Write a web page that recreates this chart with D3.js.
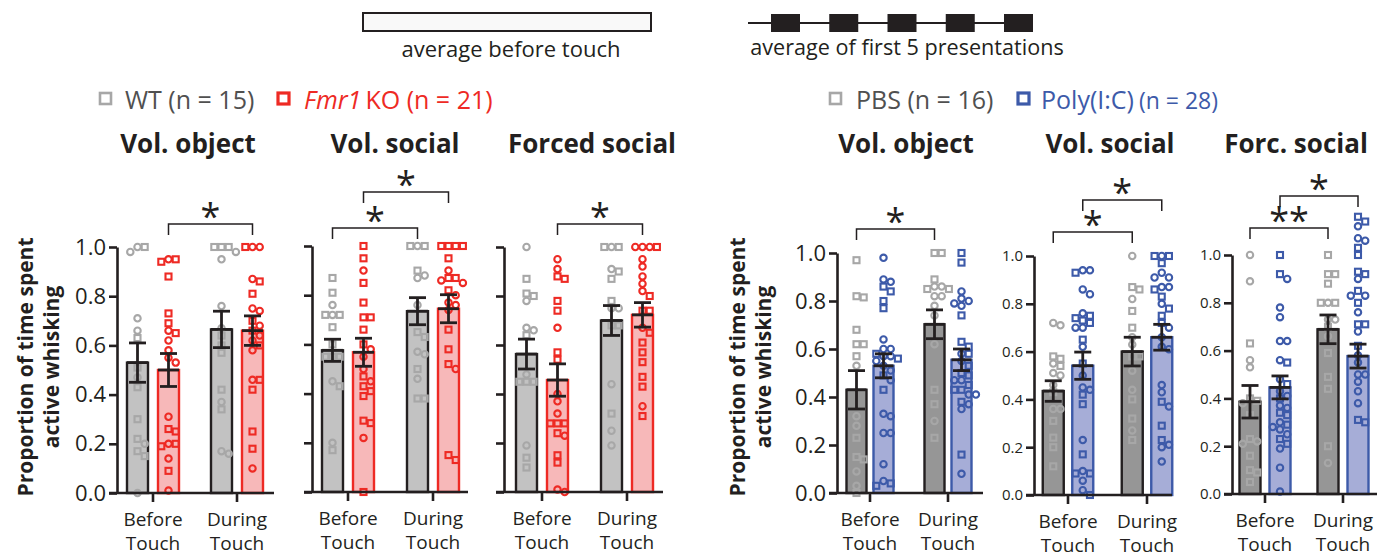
<!DOCTYPE html>
<html>
<head>
<meta charset="utf-8">
<script src="https://cdn.jsdelivr.net/npm/d3@7"></script>
<style>
  body { margin: 0; background: #fff; }
  svg { font-family: "Open Sans", sans-serif; }
</style>
</head>
<body>
<div id="chart"></div>
<script>
// ---- data ----
const groups = ["Before Touch", "During Touch"];
const fmrConds = ["WT", "Fmr1 KO"];
const miaConds = ["PBS", "Poly(I:C)"];
const yTicks = [0, 0.2, 0.4, 0.6, 0.8, 1.0];
const panelTitles = ["Vol. object", "Vol. social", "Forced social", "Vol. object", "Vol. social", "Forc. social"];

// each animal: o = circle marker, s = square marker
// Fmr1 cohort, voluntary object
const objWtPre = { o: [1.0, 0.98, 0.71, 0.66, 0.47, 0.20, 0.0], s: [1.0, 0.63, 0.51, 0.43, 0.30, 0.22, 0.17, 0.15] };
const objKoPre = { o: [0.95, 0.66, 0.62, 0.58, 0.55, 0.53, 0.31, 0.20, 0.14, 0.01], s: [0.95, 0.94, 0.88, 0.73, 0.69, 0.65, 0.26, 0.25, 0.20, 0.19, 0.09] };
const objWtDur = { o: [0.98, 0.95, 0.76, 0.67, 0.37, 0.17, 0.16], s: [1.0, 1.0, 1.0, 0.64, 0.60, 0.57, 0.42, 0.34] };
const objKoDur = { o: [1.0, 1.0, 0.87, 0.75, 0.74, 0.68, 0.64, 0.62, 0.58, 0.46, 0.10], s: [1.0, 0.86, 0.81, 0.70, 0.66, 0.60, 0.46, 0.42, 0.25, 0.18] };
const objFmrMean = [0.53, 0.50, 0.665, 0.66];
const objFmrSem = [0.08, 0.067, 0.074, 0.06];

// Fmr1 cohort, voluntary social
const socWtPre = { o: [0.76, 0.72, 0.45, 0.20], s: [0.87, 0.81, 0.72, 0.72, 0.67, 0.60, 0.55, 0.55, 0.55, 0.43, 0.17] };
const socKoPre = { o: [0.90, 0.58, 0.55, 0.50, 0.45, 0.22], s: [1.0, 0.95, 0.85, 0.77, 0.71, 0.71, 0.66, 0.60, 0.47, 0.43, 0.41, 0.39, 0.29, 0.28, 0.0] };
const socWtDur = { o: [1.0, 0.88, 0.87, 0.76, 0.57, 0.56, 0.46], s: [1.0, 1.0, 0.90, 0.65, 0.63, 0.50, 0.38, 0.38] };
const socKoDur = { o: [0.90, 0.86, 0.85, 0.80, 0.77, 0.76, 0.74, 0.50], s: [1.0, 1.0, 1.0, 1.0, 0.95, 0.87, 0.87, 0.82, 0.66, 0.58, 0.52, 0.15, 0.13] };
const socFmrMean = [0.576, 0.568, 0.735, 0.745];
const socFmrSem = [0.045, 0.057, 0.055, 0.057];

// Fmr1 cohort, forced social
const frcWtPre = { o: [1.0, 0.78, 0.67, 0.66, 0.48, 0.19], s: [0.87, 0.81, 0.80, 0.64, 0.45, 0.45, 0.45, 0.14, 0.10] };
const frcKoPre = { o: [0.95, 0.91, 0.67, 0.40, 0.37, 0.32, 0.23, 0.01, 0.0], s: [0.88, 0.87, 0.78, 0.74, 0.57, 0.54, 0.28, 0.28, 0.28, 0.24, 0.15, 0.12] };
const frcWtDur = { o: [1.0, 0.91, 0.75, 0.75, 0.44, 0.25, 0.19], s: [1.0, 1.0, 0.90, 0.87, 0.78, 0.68, 0.68, 0.32] };
const frcKoDur = { o: [1.0, 1.0, 1.0, 0.95, 0.92, 0.88, 0.85, 0.82, 0.67, 0.35], s: [1.0, 0.80, 0.74, 0.74, 0.65, 0.61, 0.57, 0.53, 0.47, 0.43, 0.31] };
const frcFmrMean = [0.563, 0.457, 0.70, 0.723];
const frcFmrSem = [0.061, 0.066, 0.061, 0.05];

// MIA cohort, voluntary object
const objPbsPre = { o: [0.53, 0.32, 0.28, 0.09, 0.03], s: [0.97, 0.82, 0.815, 0.68, 0.62, 0.62, 0.57, 0.23, 0.15, 0.14, 0.0] };
const objPicPre = { o: [0.98, 0.89, 0.88, 0.64, 0.60, 0.60, 0.57, 0.57, 0.55, 0.53, 0.51, 0.47, 0.33, 0.32, 0.25, 0.25, 0.12, 0.05], s: [0.86, 0.84, 0.80, 0.77, 0.58, 0.56, 0.49, 0.43, 0.04, 0.03] };
const objPbsDur = { o: [0.86, 0.86, 0.82, 0.82, 0.78, 0.74, 0.62, 0.30], s: [1.0, 1.0, 0.89, 0.85, 0.85, 0.43, 0.37, 0.23] };
const objPicDur = { o: [0.84, 0.81, 0.80, 0.79, 0.78, 0.58, 0.55, 0.47, 0.47, 0.41, 0.41, 0.37, 0.35, 0.08], s: [1.0, 0.96, 0.74, 0.63, 0.61, 0.58, 0.53, 0.50, 0.49, 0.45, 0.43, 0.43, 0.38, 0.16] };
const objMiaMean = [0.43, 0.53, 0.703, 0.555];
const objMiaSem = [0.08, 0.05, 0.06, 0.045];

// MIA cohort, voluntary social
const socPbsPre = { o: [0.72, 0.71, 0.55, 0.51, 0.50, 0.46, 0.36, 0.36], s: [0.58, 0.57, 0.54, 0.43, 0.31, 0.24, 0.20, 0.12] };
const socPicPre = { o: [0.94, 0.94, 0.86, 0.84, 0.76, 0.70, 0.70, 0.62, 0.50, 0.45, 0.44, 0.23, 0.10, 0.06, 0.02], s: [0.93, 0.75, 0.74, 0.73, 0.72, 0.65, 0.55, 0.42, 0.38, 0.17, 0.09, 0.09, 0.0] };
const socPbsDur = { o: [1.0, 0.82, 0.66, 0.63, 0.52, 0.44, 0.27], s: [0.87, 0.86, 0.77, 0.70, 0.58, 0.58, 0.40, 0.32, 0.23] };
const socPicDur = { o: [1.0, 0.93, 0.91, 0.91, 0.87, 0.87, 0.80, 0.70, 0.66, 0.62, 0.61, 0.46, 0.43, 0.37, 0.21, 0.20, 0.14], s: [1.0, 1.0, 0.97, 0.86, 0.83, 0.78, 0.75, 0.72, 0.39, 0.29, 0.23] };
const socMiaMean = [0.435, 0.541, 0.60, 0.66];
const socMiaSem = [0.043, 0.057, 0.06, 0.054];

// MIA cohort, forced social
const frcPbsPre = { o: [1.0, 0.89, 0.56, 0.53, 0.38, 0.22, 0.21], s: [0.63, 0.40, 0.39, 0.33, 0.23, 0.16, 0.10, 0.09, 0.05] };
const frcPicPre = { o: [0.90, 0.78, 0.74, 0.64, 0.64, 0.56, 0.48, 0.43, 0.41, 0.37, 0.36, 0.30, 0.28, 0.27, 0.25, 0.19, 0.11, 0.01], s: [1.0, 0.92, 0.55, 0.46, 0.40, 0.34, 0.33, 0.29, 0.23, 0.21] };
const frcPbsDur = { o: [0.80, 0.73, 0.73, 0.66, 0.13], s: [1.0, 0.92, 0.92, 0.88, 0.80, 0.80, 0.70, 0.59, 0.49, 0.44, 0.20] };
const frcPicDur = { o: [1.12, 1.07, 1.06, 0.90, 0.83, 0.83, 0.76, 0.68, 0.58, 0.55, 0.50, 0.50, 0.47, 0.43, 0.38], s: [1.16, 1.14, 1.03, 1.0, 0.93, 0.92, 0.85, 0.80, 0.71, 0.71, 0.62, 0.31, 0.30] };
const frcMiaMean = [0.386, 0.446, 0.689, 0.577];
const frcMiaSem = [0.068, 0.048, 0.06, 0.05];

// ---- styles ----
const ink = "#231f20";
const palettes = {
  fmr: { conds: fmrConds, pt: ["#a7a7a7", "#ee2a24"], fill: ["#c2c2c2", "#f7b8b9"], stroke: [ink, "#ee2a24"] },
  mia: { conds: miaConds, pt: ["#a7a7a7", "#3d5aa9"], fill: ["#969696", "#a6add7"], stroke: [ink, "#3d5aa9"] }
};

// layout of each panel (pixels), data hooked in by name
const panels = [
  { title: panelTitles[0], pal: "fmr", x0: 117, x1: 274, c: [153, 237], step: 31, bw: 21, yTop: 247, yBot: 493, tickFont: 22, titleX: 188,
    pts: [objWtPre, objKoPre, objWtDur, objKoDur], mean: objFmrMean, sem: objFmrSem,
    sig: [{ a: 1, at: 1.093, txt: "*" }] },
  { title: panelTitles[1], pal: "fmr", x0: 312, x1: 468, c: [348, 433], step: 31, bw: 21, yTop: 246, yBot: 492, tickFont: 0, titleX: 395,
    pts: [socWtPre, socKoPre, socWtDur, socKoDur], mean: socFmrMean, sem: socFmrSem,
    sig: [{ a: 0, at: 1.073, txt: "*" }, { a: 1, at: 1.22, txt: "*" }] },
  { title: panelTitles[2], pal: "fmr", x0: 504, x1: 663, c: [542, 627], step: 31, bw: 21, yTop: 247, yBot: 492, tickFont: 0, titleX: 592,
    pts: [frcWtPre, frcKoPre, frcWtDur, frcKoDur], mean: frcFmrMean, sem: frcFmrSem,
    sig: [{ a: 1, at: 1.094, txt: "*" }] },
  { title: panelTitles[3], pal: "mia", x0: 837, x1: 983, c: [870, 948], step: 27, bw: 20, yTop: 253, yBot: 493, tickFont: 22, titleX: 906,
    pts: [objPbsPre, objPicPre, objPbsDur, objPicDur], mean: objMiaMean, sem: objMiaSem,
    sig: [{ a: 0, at: 1.10, txt: "*" }] },
  { title: panelTitles[4], pal: "mia", x0: 1034, x1: 1172, c: [1068, 1147], step: 29.5, bw: 21, yTop: 256, yBot: 495, tickFont: 15, titleX: 1110,
    pts: [socPbsPre, socPicPre, socPbsDur, socPicDur], mean: socMiaMean, sem: socMiaSem,
    sig: [{ a: 0, at: 1.10, txt: "*" }, { a: 1, at: 1.234, txt: "*" }] },
  { title: panelTitles[5], pal: "mia", x0: 1232, x1: 1377, c: [1265, 1343], step: 30, bw: 21, yTop: 255, yBot: 494, tickFont: 15, titleX: 1296,
    pts: [frcPbsPre, frcPicPre, frcPbsDur, frcPicDur], mean: frcMiaMean, sem: frcMiaSem,
    sig: [{ a: 0, at: 1.113, txt: "**" }, { a: 1, at: 1.247, txt: "*" }] }
];

const svg = d3.select("#chart").append("svg")
  .attr("width", 1390)
  .attr("height", 558);

// simple beeswarm: spread points sideways so they don't sit on top of each other
function dodge(items, y, d) {
  const placed = [];
  const order = items.map((p, i) => i).sort((a, b) => items[b].v - items[a].v);
  const off = new Array(items.length);
  order.forEach(i => {
    const py = y(items[i].v);
    for (let k = 0; k < 12; k++) {
      const dx = (k % 2 ? 1 : -1) * Math.ceil(k / 2) * d;
      const hit = placed.some(q => (q.x - dx) ** 2 + (q.y - py) ** 2 < d * d * 0.8);
      if (!hit) { off[i] = dx; placed.push({ x: dx, y: py }); break; }
    }
    if (off[i] === undefined) off[i] = 0;
  });
  return off;
}

panels.forEach(p => {
  const pal = palettes[p.pal];
  const y = d3.scaleLinear().domain([0, 1]).range([p.yBot, p.yTop]);
  const xg = d3.scalePoint().domain(groups).range(p.c);
  const xc = d3.scaleBand().domain(pal.conds)
    .range([-(p.step + p.bw) / 2, (p.step + p.bw) / 2])
    .paddingInner(1 - p.bw / p.step);
  const g = svg.append("g");

  const bars = [];
  groups.forEach((grp, gi) => pal.conds.forEach((cond, ki) => {
    bars.push({ i: gi * 2 + ki, k: ki, cx: xg(grp) + xc(cond) + xc.bandwidth() / 2, x: xg(grp) + xc(cond) });
  }));

  // bars
  g.selectAll("rect.bar").data(bars).join("rect")
    .attr("class", "bar")
    .attr("x", d => d.x)
    .attr("y", d => y(p.mean[d.i]))
    .attr("width", xc.bandwidth())
    .attr("height", d => p.yBot - y(p.mean[d.i]))
    .attr("fill", d => pal.fill[d.k])
    .attr("stroke", d => pal.stroke[d.k])
    .attr("stroke-width", 2.4);

  // individual animals
  bars.forEach(b => {
    const set = p.pts[b.i];
    const items = set.o.map(v => ({ v, shape: "o" })).concat(set.s.map(v => ({ v, shape: "s" })));
    const off = dodge(items, y, 7.2);
    const col = pal.pt[b.k];
    items.forEach((it, j) => {
      const cx = b.cx + off[j], cy = y(it.v);
      if (it.shape === "o") {
        g.append("circle").attr("cx", cx).attr("cy", cy).attr("r", 3.2)
          .attr("fill", "none").attr("stroke", col).attr("stroke-width", 2.1);
      } else {
        g.append("rect").attr("x", cx - 3).attr("y", cy - 3).attr("width", 6).attr("height", 6)
          .attr("fill", "none").attr("stroke", col).attr("stroke-width", 2.1);
      }
    });
  });

  // error bars (mean +/- sem)
  bars.forEach(b => {
    const m = p.mean[b.i], e = p.sem[b.i];
    const eg = g.append("g").attr("stroke", ink).attr("stroke-width", 2.8);
    eg.append("line").attr("x1", b.cx).attr("x2", b.cx).attr("y1", y(m - e)).attr("y2", y(m + e));
    [m - e, m + e].forEach(v => eg.append("line")
      .attr("x1", b.cx - 8.5).attr("x2", b.cx + 8.5).attr("y1", y(v)).attr("y2", y(v)));
    eg.append("line").attr("x1", b.x).attr("x2", b.x + xc.bandwidth()).attr("y1", y(m)).attr("y2", y(m));
  });

  // y axis
  const yAxis = d3.axisLeft(y).tickValues(yTicks).tickSize(8).tickSizeOuter(0).tickPadding(3)
    .tickFormat(p.tickFont ? d3.format(".1f") : "");
  const ya = g.append("g").attr("transform", `translate(${p.x0},0)`).call(yAxis);
  ya.select(".domain").attr("stroke", ink).attr("stroke-width", 2.6);
  ya.selectAll(".tick line").attr("stroke", ink).attr("stroke-width", 2.6);
  ya.selectAll(".tick text").attr("fill", ink).style("font-size", p.tickFont + "px")
    .style("font-family", "'Open Sans', sans-serif");

  // x axis
  g.append("line").attr("x1", p.x0 - 8).attr("x2", p.x1).attr("y1", p.yBot).attr("y2", p.yBot)
    .attr("stroke", ink).attr("stroke-width", 2.6);
  groups.forEach(grp => {
    g.append("line").attr("x1", xg(grp)).attr("x2", xg(grp)).attr("y1", p.yBot).attr("y2", p.yBot + 9)
      .attr("stroke", ink).attr("stroke-width", 2.6);
    const t = g.append("text").attr("text-anchor", "middle").attr("fill", ink).style("font-size", "19px");
    grp.split(" ").forEach((w, wi) => t.append("tspan").attr("x", xg(grp)).attr("y", p.yBot + 33 + wi * 24).text(w));
  });

  // significance brackets
  p.sig.forEach(s => {
    const xa = xg(groups[0]) + xc(pal.conds[s.a]) + xc.bandwidth() / 2;
    const xb = xg(groups[1]) + xc(pal.conds[s.a]) + xc.bandwidth() / 2;
    const yy = y(s.at);
    g.append("path")
      .attr("d", `M${xa},${yy + 11}V${yy}H${xb}V${yy + 11}`)
      .attr("fill", "none").attr("stroke", ink).attr("stroke-width", 1.5);
    g.append("text").attr("x", (xa + xb) / 2).attr("y", yy + 5)
      .attr("text-anchor", "middle").attr("fill", ink).style("font-size", "36px").text(s.txt);
  });

  // panel title
  g.append("text").attr("x", p.titleX).attr("y", 153).attr("text-anchor", "middle")
    .attr("fill", ink).style("font-size", "26px").style("font-weight", 700).text(p.title);
});

// y axis titles
[{ x: 33, cx: 367 }, { x: 745, cx: 367 }].forEach(a => {
  const t = svg.append("text").attr("transform", `translate(${a.x},${a.cx}) rotate(-90)`)
    .attr("text-anchor", "middle").attr("fill", ink)
    .style("font-size", "21px").style("font-weight", 700);
  t.append("tspan").attr("x", 0).attr("y", 0).text("Proportion of time spent");
  t.append("tspan").attr("x", 0).attr("y", 26).text("active whisking");
});

// top legend: baseline period and presentations
svg.append("rect").attr("x", 363).attr("y", 13).attr("width", 288).attr("height", 18)
  .attr("fill", "#f9f9f9").attr("stroke", ink).attr("stroke-width", 2);
svg.append("text").attr("x", 511).attr("y", 57).attr("text-anchor", "middle")
  .attr("fill", ink).style("font-size", "22px").text("average before touch");

const pres = d3.scaleLinear().domain([1, 5]).range([785.5, 1018.5]);
svg.append("line").attr("x1", 748).attr("x2", 1033).attr("y1", 23).attr("y2", 23)
  .attr("stroke", ink).attr("stroke-width", 2);
svg.selectAll("rect.pres").data(d3.range(1, 6)).join("rect")
  .attr("class", "pres")
  .attr("x", d => pres(d) - 14.5).attr("y", 14).attr("width", 29).attr("height", 18)
  .attr("fill", ink);
svg.append("text").attr("x", 907).attr("y", 55).attr("text-anchor", "middle")
  .attr("fill", ink).style("font-size", "21.6px").text("average of first 5 presentations");

// group legends
function legendBox(x, col, sw) {
  svg.append("rect").attr("x", x).attr("y", 93).attr("width", 11).attr("height", 11)
    .attr("fill", "#fff").attr("stroke", col).attr("stroke-width", sw);
}
legendBox(100, "#a7a7a7", 2.6);
svg.append("text").attr("x", 125).attr("y", 109).attr("fill", "#505050")
  .style("font-size", "25px").text("WT (n = 15)");
legendBox(278, "#ee2a24", 3.2);
const ko = svg.append("text").attr("x", 304).attr("y", 109).attr("fill", "#ee2a24").style("font-size", "25px");
ko.append("tspan").style("font-style", "italic").text("Fmr1");
ko.append("tspan").attr("dx", 4).text("KO (n = 21)");

legendBox(830, "#a7a7a7", 2.6);
svg.append("text").attr("x", 856).attr("y", 109).attr("fill", "#505050")
  .style("font-size", "25px").text("PBS (n = 16)");
legendBox(1018, "#3d5aa9", 3.2);
const pic = svg.append("text").attr("x", 1041).attr("y", 109).attr("fill", "#3d5aa9").style("font-size", "25px");
pic.append("tspan").text("Poly(I:C)");
pic.append("tspan").attr("dx", 5).style("font-size", "23px").text("(n = 28)");
</script>
</body>
</html>
